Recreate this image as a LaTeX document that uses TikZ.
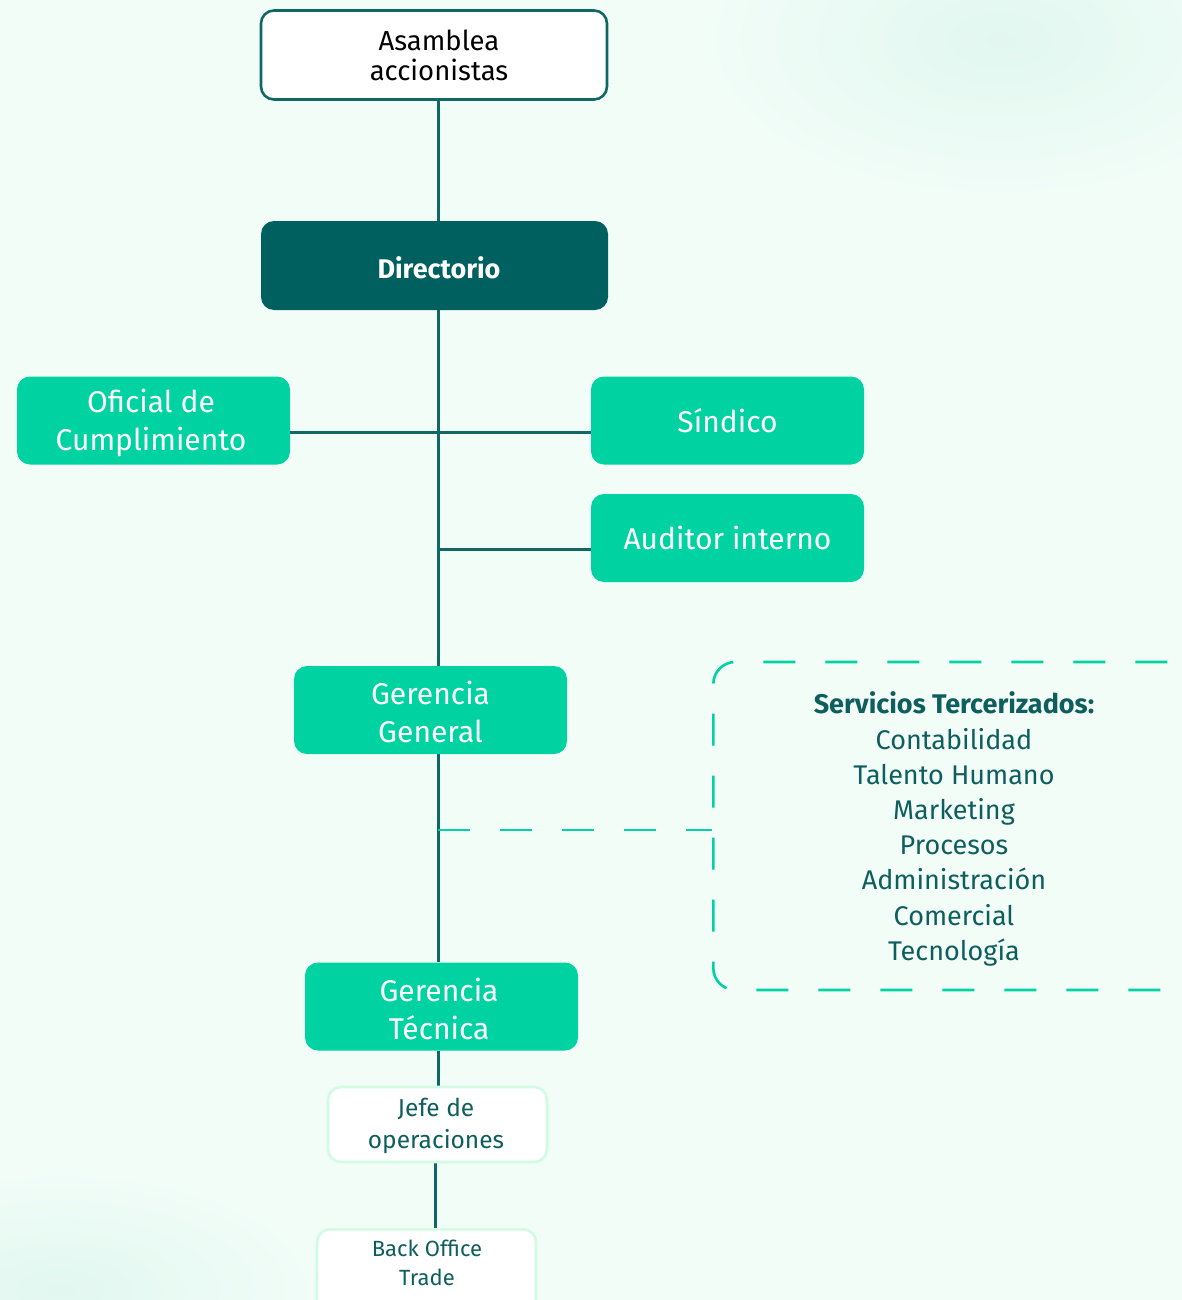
\documentclass[tikz,border=0pt]{standalone}
\usepackage{fontspec}
\setmainfont{Fira Sans}
\usetikzlibrary{backgrounds}
\definecolor{bgmint}{HTML}{F2FDF8}
\definecolor{blot}{HTML}{D8F4EC}
\definecolor{brightg}{HTML}{00D3A1}
\definecolor{darkteal}{HTML}{005F5F}
\definecolor{linecol}{HTML}{0F6864}
\definecolor{txtteal}{HTML}{0E5E5E}
\definecolor{paleborder}{HTML}{D2FBE6}
\tikzset{
  box/.style={rectangle, rounded corners=13pt, align=center, inner sep=0pt},
  greenbox/.style={box, fill=brightg, text=white, minimum width=273pt, minimum height=88pt,
     font=\fontsize{30}{38}\selectfont},
  topbox/.style={box, fill=white, draw=linecol, line width=2.6pt, minimum width=346pt, minimum height=89pt},
  dirbox/.style={box, fill=darkteal, minimum width=347pt, minimum height=89pt},
  palebox/.style={box, fill=white, draw=paleborder, line width=2.6pt, text=txtteal},
  conn/.style={draw=linecol, line width=3pt},
  dconn/.style={draw=brightg, line width=2.6pt, dash pattern=on 32pt off 30pt},
}
\begin{document}
\begin{tikzpicture}[x=1pt,y=-1pt]
\useasboundingbox (0,0) rectangle (1182,1300);
% nodes
\node[topbox] (asm) at (434,55) {};
\node[text=black, align=center, font=\fontsize{27.5}{30}\selectfont] (asmtxt) at (439,55) {Asamblea\\accionistas};
\node[dirbox] (dir) at (434.5,265.5) {};
\node[text=white, font=\bfseries\fontsize{27}{30}\selectfont] (dirtxt) at (439,268) {Directorio};
\node[greenbox] (ofi) at (153.5,420.5) {};
\node[text=white, align=center, font=\fontsize{30}{38}\selectfont] (ofitxt) at (151,423) {Oficial de\\Cumplimiento};
\node[greenbox] (sin) at (727.5,420.5) {Síndico};
\node[greenbox] (aud) at (727.5,538) {Auditor interno};
\node[greenbox] (gg) at (430.5,710) {};
\node[text=white, align=center, font=\fontsize{30}{38}\selectfont] (ggtxt) at (430.5,711.5) {Gerencia\\General};
\node[greenbox] (gt) at (441.5,1006.5) {};
\node[text=white, align=center, font=\fontsize{30}{38}\selectfont] (gttxt) at (439,1008.5) {Gerencia\\Técnica};
\node[palebox, minimum width=219pt, minimum height=75pt] (jefe) at (437.5,1124.5) {};
\node[text=txtteal, align=center, font=\fontsize{24.5}{32}\selectfont] (jefetxt) at (436,1126) {Jefe de\\operaciones};
\node[palebox, minimum width=219pt, minimum height=110pt, anchor=north] (back) at (426.5,1228) {};
\node[text=txtteal, font=\fontsize{22}{29}\selectfont, align=center] (backtxt) at (427,1263) {Back Office\\Trade};
\node[box, rounded corners=22pt, minimum width=600pt, minimum height=328pt, anchor=west, dconn] (serv) at (712,826) {};
\node[text=txtteal, align=center, font=\fontsize{27}{35.2}\selectfont] (servtxt) at (954,829)
  {{\bfseries Servicios Tercerizados:}\\Contabilidad\\Talento Humano\\Marketing\\Procesos\\Administración\\Comercial\\Tecnología};
\coordinate (spine) at (438,0);
\coordinate (h1) at (0,432);
\coordinate (h2) at (0,549);
\coordinate (h3) at (0,830);
\begin{scope}[on background layer]
  \fill[bgmint] (0,0) rectangle (1182,1300);
  \shade[inner color=blot, outer color=bgmint] (1000,40) ellipse (300pt and 160pt);
  \shade[inner color=blot, outer color=bgmint] (60,1290) ellipse (260pt and 120pt);
  \fill[bgmint, opacity=0.4] (0,0) rectangle (1182,1300);
  \draw[conn] (asm.south -| spine) -- (dir.north -| spine);
  \draw[conn] (dir.south -| spine) -- (gt.north -| spine);
  \draw[conn] (ofi.east |- h1) -- (sin.west |- h1);
  \draw[conn] (spine |- h2) -- (aud.west |- h2);
  \draw[dconn] (spine |- h3) -- (serv.west |- h3);
  \draw[conn] (gt.south -| spine) -- (jefe.north -| spine);
  \draw[conn] ([xshift=-2.5pt]jefe.south) -- ([xshift=-2.5pt]jefe.south |- back.north);
\end{scope}
\end{tikzpicture}
\end{document}
